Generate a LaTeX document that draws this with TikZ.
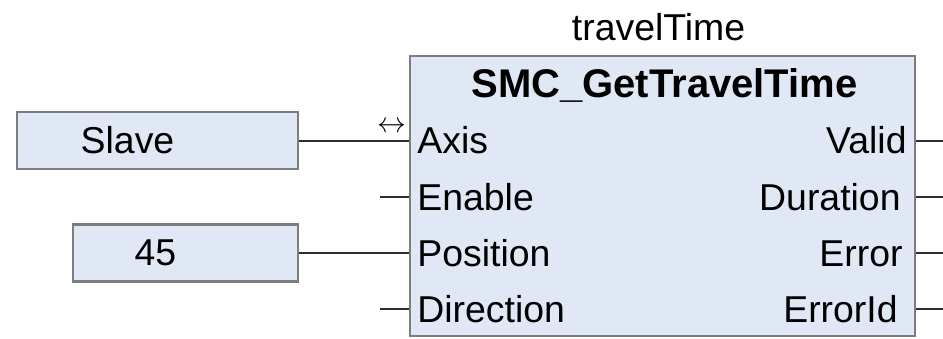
\documentclass[tikz,border=0pt]{standalone}
\usepackage{fontspec}
\setmainfont{Liberation Sans}
\definecolor{boxfill}{RGB}{224,232,246}
\definecolor{boxline}{RGB}{125,125,125}
\definecolor{wirecol}{RGB}{45,45,45}

\begin{document}
\begin{tikzpicture}[x=0.5pt, y=-0.5pt,
    txt/.style={inner sep=0pt, font=\fontsize{18.7}{22}\selectfont},
    varbox/.style={draw=boxline, line width=1.2pt, fill=boxfill, inner sep=0pt,
        minimum height=28.5pt, font=\fontsize{18.7}{22}\selectfont},
    fbbox/.style={draw=boxline, line width=1.2pt, fill=boxfill,
        minimum width=252.5pt, minimum height=140pt},
    wire/.style={draw=wirecol, line width=1pt}]
    \useasboundingbox (0, 0) rectangle (943, 338);

%%   kw   (name)   (x, y)   {text}
    \node[fbbox] (fb) at (662.5, 196) {};
    \node[txt] (inst) at (658.5, 40.7) [anchor=base] {travelTime};
    \node[txt, font=\fontsize{20}{22}\selectfont\bfseries] (fbname) at (664.5, 97) [anchor=base] {SMC\_GetTravelTime};

    \node[varbox, minimum width=140.5pt] (slave) at (157.5, 140.5) {Slave\hspace*{30pt}};
    \node[varbox, minimum width=112.5pt] (pos) at (185.5, 253) {45\hspace*{30pt}};

    \node[txt] (axis) at (417, 153) [anchor=base west] {Axis};
    \node[txt] (enable) at (417, 210) [anchor=base west] {Enable};
    \node[txt] (position) at (417, 266) [anchor=base west] {Position};
    \node[txt] (direction) at (417, 322) [anchor=base west] {Direction};
    \node[inner sep=0pt, font=\fontsize{15}{15}\selectfont] (inout) at (392, 127) {$\leftrightarrow$};

    \node[txt] (valid) at (907, 153) [anchor=base east] {Valid};
    \node[txt] (duration) at (901, 210) [anchor=base east] {Duration};
    \node[txt] (error) at (903, 266) [anchor=base east] {Error};
    \node[txt] (errorid) at (898, 322) [anchor=base east] {ErrorId};

    \draw[wire] (slave.east) -- (slave.east -| fb.west);
    \draw[wire] (pos.east) -- (pos.east -| fb.west);
    \draw[wire] (fb.west |- 0, 197) -- ++(-29, 0);
    \draw[wire] (fb.west |- 0, 309) -- ++(-29, 0);

    \draw[wire] (fb.east |- 0, 141) -- ++(28, 0);
    \draw[wire] (fb.east |- 0, 197) -- ++(28, 0);
    \draw[wire] (fb.east |- 0, 253) -- ++(28, 0);
    \draw[wire] (fb.east |- 0, 309) -- ++(28, 0);
\end{tikzpicture}
\end{document}
